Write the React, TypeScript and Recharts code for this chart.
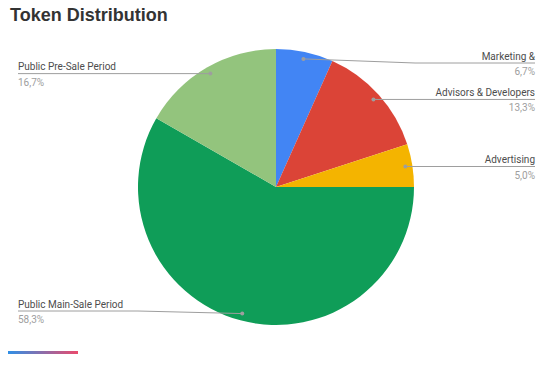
import { Cell, Pie, PieChart } from "recharts";

const names = [
  "Marketing &",
  "Advisors & Developers",
  "Advertising",
  "Public Main-Sale Period",
  "Public Pre-Sale Period",
];
const shares = [6.7, 13.3, 5.0, 58.3, 16.7];
const colors = ["#4285F4", "#DB4437", "#F4B400", "#0F9D58", "#93C47D"];

const data = names.map((name, i) => ({ name, value: shares[i] }));

const RAD = Math.PI / 180;

function renderLabel(props: any) {
  const { cx, cy, midAngle, outerRadius, index } = props;
  const r = outerRadius - 7;
  const px = cx + r * Math.cos(-midAngle * RAD);
  const py = cy + r * Math.sin(-midAngle * RAD);
  const right = px > cx;
  const ly = Math.min(Math.max(py, cy - 124), cy + 124);
  const edge = right ? 535 : 18;
  const bend = right ? edge - 120 : edge + 120;
  const pct = shares[index].toFixed(1).replace(".", ",") + "%";
  return (
    <g key={"lbl" + index}>
      <polyline
        points={`${px},${py} ${bend},${ly} ${edge},${ly}`}
        fill="none"
        stroke="#9e9e9e"
        strokeWidth={1}
      />
      <circle cx={px} cy={py} r={2} fill="#9e9e9e" />
      <text
        x={edge}
        y={ly - 3.5}
        textAnchor={right ? "end" : "start"}
        fontFamily="Roboto"
        fontSize={10}
        fill="#4d4d4d"
      >
        {names[index]}
      </text>
      <text
        x={edge}
        y={ly + 12}
        textAnchor={right ? "end" : "start"}
        fontFamily="Roboto"
        fontSize={10}
        fill="#9e9e9e"
      >
        {pct}
      </text>
    </g>
  );
}

export default function App() {
  return (
    <div
      style={{
        position: "absolute",
        left: 0,
        top: 0,
        width: 551,
        height: 366,
        background: "#fff",
      }}
    >
      <div
        style={{
          position: "absolute",
          left: 10,
          top: 5,
          fontFamily: "'Liberation Sans', Arial, sans-serif",
          fontWeight: "bold",
          fontSize: 18,
          color: "#333",
        }}
      >
        Token Distribution
      </div>
      <PieChart
        width={551}
        height={366}
        margin={{ top: 0, right: 0, bottom: 0, left: 0 }}
      >
        <Pie
          data={data}
          dataKey="value"
          nameKey="name"
          cx={276}
          cy={187}
          outerRadius={138}
          startAngle={90}
          endAngle={-270}
          stroke="none"
          labelLine={false}
          label={renderLabel}
          isAnimationActive={false}
        >
          {data.map((d, i) => (
            <Cell key={d.name} fill={colors[i]} />
          ))}
        </Pie>
      </PieChart>
      <div
        style={{
          position: "absolute",
          left: 8,
          top: 351,
          width: 70,
          height: 3,
          background: "linear-gradient(to right, #2f8fe6, #ea4a6c)",
        }}
      />
    </div>
  );
}
